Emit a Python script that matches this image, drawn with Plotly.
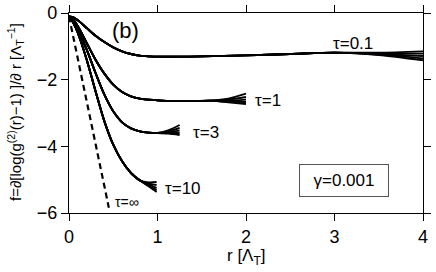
import plotly.graph_objects as go

# ---- data ----
tau01_x_head = [0, 0.05, 0.1, 0.2, 0.3, 0.4, 0.5, 0.6, 0.7, 0.8, 0.9, 1.0, 1.5, 2.0, 2.5, 3.0]
tau01_y_head = [-0.1, -0.13, -0.22, -0.45, -0.68, -0.87, -1.03, -1.15, -1.23, -1.28, -1.3, -1.31, -1.3, -1.27, -1.23, -1.19]
tau01_x_tail = [3.5, 4.0]
tau01_y_tails = [[-1.19, -1.15], [-1.21, -1.22], [-1.23, -1.29], [-1.25, -1.36], [-1.26, -1.42]]

tau1_x_head = [0, 0.05, 0.1, 0.2, 0.3, 0.4, 0.5, 0.6, 0.7, 0.8, 0.9, 1.0, 1.2, 1.4, 1.6]
tau1_y_head = [-0.1, -0.2, -0.4, -0.9, -1.4, -1.82, -2.15, -2.37, -2.5, -2.57, -2.6, -2.62, -2.64, -2.64, -2.63]
tau1_x_tail = [1.8, 2.0]
tau1_y_tails = [[-2.57, -2.42], [-2.6, -2.52], [-2.63, -2.6], [-2.66, -2.67], [-2.68, -2.73]]

tau3_x_head = [0, 0.05, 0.1, 0.2, 0.3, 0.4, 0.5, 0.6, 0.7, 0.8, 0.9, 1.0]
tau3_y_head = [-0.1, -0.25, -0.5, -1.1, -1.8, -2.45, -2.95, -3.28, -3.46, -3.55, -3.59, -3.6]
tau3_x_tail = [1.12, 1.25]
tau3_y_tails = [[-3.52, -3.36], [-3.55, -3.45], [-3.58, -3.53], [-3.6, -3.6], [-3.62, -3.66]]

tau10_x_head = [0, 0.05, 0.1, 0.2, 0.3, 0.4, 0.5, 0.6, 0.7, 0.8]
tau10_y_head = [-0.1, -0.3, -0.6, -1.4, -2.35, -3.25, -3.95, -4.45, -4.8, -5.02]
tau10_x_tail = [0.9, 0.99]
tau10_y_tails = [[-5.08, -5.07], [-5.12, -5.16], [-5.15, -5.25], [-5.18, -5.32], [-5.2, -5.37]]

tauinf_x = [0, 0.1, 0.2, 0.3, 0.4, 0.45]
tauinf_y = [-0.1, -1.35, -2.6, -3.9, -5.2, -5.84]

x_ticks = [0, 1, 2, 3, 4]
y_ticks = [0, -2, -4, -6]

FONT = "Liberation Sans, Arial, sans-serif"
L, R, T, B = 69, 423, 13, 213

fig = go.Figure()

bundles = [
    (tau01_x_head, tau01_y_head, tau01_x_tail, tau01_y_tails),
    (tau1_x_head, tau1_y_head, tau1_x_tail, tau1_y_tails),
    (tau3_x_head, tau3_y_head, tau3_x_tail, tau3_y_tails),
    (tau10_x_head, tau10_y_head, tau10_x_tail, tau10_y_tails),
]
for xh, yh, xt, yts in bundles:
    for yt in yts:
        fig.add_trace(go.Scatter(
            x=xh + xt, y=yh + yt, mode="lines",
            line=dict(color="black", width=1.9, shape="spline", smoothing=0.8),
            showlegend=False, hoverinfo="skip"))

fig.add_trace(go.Scatter(
    x=tauinf_x, y=tauinf_y, mode="lines",
    line=dict(color="black", width=2.2, dash="6px,4px"),
    showlegend=False, hoverinfo="skip"))

axis_common = dict(
    showline=True, linecolor="black", linewidth=1.3, mirror="allticks",
    ticks="outside", ticklen=7, tickwidth=1.3, tickcolor="black",
    showgrid=False, zeroline=False, automargin=False,
    tickfont=dict(family=FONT, size=18, color="black"),
)

fig.update_layout(
    width=436, height=272, autosize=False,
    margin=dict(l=L, r=436 - R, t=T, b=272 - B, autoexpand=False),
    paper_bgcolor="white", plot_bgcolor="white",
    xaxis=dict(range=[0, 4], tickvals=x_ticks, **axis_common),
    yaxis=dict(range=[-6, 0], tickvals=y_ticks, **axis_common),
    font=dict(family=FONT, color="black"),
)


def px(xp):
    return (xp - L) / (R - L)


def py(yp):
    return 1 - (yp - T) / (B - T)


ann = [
    dict(text="(b)", x=125, y=31, size=22),
    dict(text="τ=0.1", x=353, y=43, size=17),
    dict(text="τ=1", x=268, y=101, size=17),
    dict(text="τ=3", x=206, y=132, size=17),
    dict(text="τ=10", x=183, y=188, size=17),
    dict(text="τ=∞", x=127, y=202, size=14),
]
for a in ann:
    fig.add_annotation(text=a["text"], xref="paper", yref="paper",
                       x=px(a["x"]), y=py(a["y"]),
                       xanchor="center", yanchor="middle", showarrow=False,
                       font=dict(family=FONT, size=a["size"], color="black"))

fig.add_annotation(text="γ=0.001", xref="paper", yref="paper",
                   x=px(344), y=py(180),
                   xanchor="center", yanchor="middle", showarrow=False,
                   font=dict(family=FONT, size=17, color="black"),
                   bordercolor="#555", borderwidth=1, borderpad=6, width=76)

fig.add_annotation(text="r [Λ<sub>T</sub>]", xref="paper", yref="paper",
                   x=px(246), y=py(257), xanchor="center", yanchor="middle", showarrow=False,
                   font=dict(family=FONT, size=17, color="black"))

fig.add_annotation(text="f=∂[log(g<sup>(2)</sup>(r)−1) ]/∂ r [Λ<sub>T</sub><sup>−1</sup>]",
                   xref="paper", yref="paper", x=px(15), y=py(112),
                   xanchor="center", yanchor="middle", textangle=-90, showarrow=False,
                   font=dict(family=FONT, size=15, color="black"))

fig.write_html("out.html", config={"displayModeBar": False})

with open("out.html", "r", encoding="utf-8") as f:
    html = f.read()
html = html.replace("<head>", "<head><style>html,body{margin:0;padding:0;overflow:hidden;}</style>", 1)
with open("out.html", "w", encoding="utf-8") as f:
    f.write(html)
